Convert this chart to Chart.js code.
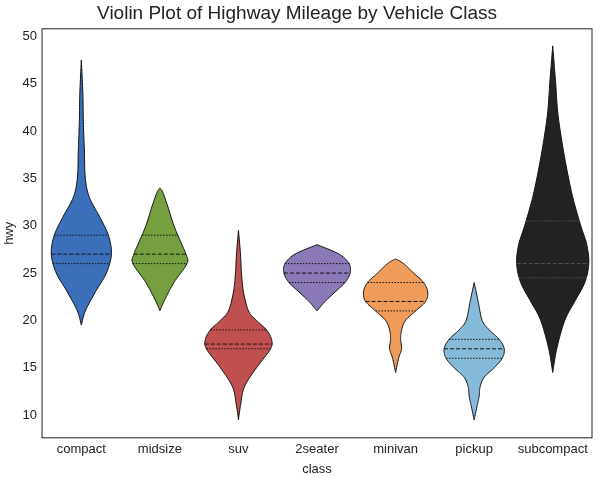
<!DOCTYPE html>
<html>
<head>
<meta charset="utf-8">
<script src="https://cdn.jsdelivr.net/npm/chart.js@4"></script>
<style>
  body { margin: 0; background: #fff; }
  #wrap { width: 600px; height: 477px; }
</style>
</head>
<body>
<div id="wrap"><canvas id="c"></canvas></div>
<script>
// Categories and colours
const classes = ["compact", "midsize", "suv", "2seater", "minivan", "pickup", "subcompact"];
const colors = ["#3b6fba", "#76a03f", "#c0504f", "#8a78b7", "#ef9b5a", "#85bbd8", "#222222"];

// Violin outlines: hwy levels and half-widths (px at category spacing ~78)
const levels = [
  [19.5, 21, 23, 25, 27, 29, 31, 33, 35, 38, 41, 44, 47.5],
  [21, 22, 24, 26, 27, 28, 30, 32, 33.5, 34],
  [9.5, 11, 13, 15, 17, 18, 19, 20, 21, 23, 25, 27, 29.5],
  [21, 22, 23, 24, 25, 26, 27, 28],
  [14.5, 16, 17, 18, 19, 20, 21, 22, 23, 24, 25, 26, 26.5],
  [9.5, 11, 12, 13, 14, 15, 16, 17, 18, 19, 20, 22, 24],
  [14.5, 17, 20, 22, 24, 26, 28, 30, 33, 36, 39, 42, 45, 47, 49]
];
const widths = [
  [0, 4, 14, 25, 30, 27, 18, 8, 4, 3, 2, 1.5, 0],
  [0, 4, 14, 27, 26, 22, 14, 8, 3, 0],
  [0, 2, 6, 18, 32, 33, 28, 18, 10, 5, 3, 2, 0],
  [0, 8, 18, 28, 33, 32, 22, 0],
  [0, 3, 6, 5, 6, 10, 20, 30, 32, 28, 18, 8, 0],
  [0, 3, 5, 6, 10, 20, 28, 30, 25, 15, 8, 4, 0],
  [0, 4, 12, 22, 32, 36, 34, 28, 20, 14, 9, 5, 3, 1.5, 0]
];
// Quartiles [q1, median, q3]
const quartiles = [
  [26, 27, 29], [26, 27, 29], [17, 17.5, 19], [24, 25, 26],
  [21, 22, 24], [16, 17, 18], [24.5, 26, 30.5]
];
const SPACING = 78.4;

// Catmull-Rom smoothing of the outline, sampled finely
function smooth(ys, ws) {
  const out = [];
  for (let k = 0; k < ys.length - 1; k++) {
    const p0 = k ? k - 1 : k, p3 = k + 2 < ys.length ? k + 2 : k + 1;
    for (let s = 0; s < 10; s++) {
      const t = s / 10, t2 = t * t, t3 = t2 * t;
      const cr = (a, b, c, d) => 0.5 * (2 * b + (-a + c) * t + (2 * a - 5 * b + 4 * c - d) * t2 + (-a + 3 * b - 3 * c + d) * t3);
      out.push([cr(ys[p0], ys[k], ys[k + 1], ys[p3]), Math.max(0, cr(ws[p0], ws[k], ws[k + 1], ws[p3]))]);
    }
  }
  out.push([ys[ys.length - 1], 0]);
  return out;
}

function widthAt(pts, v) {
  for (let k = 0; k < pts.length - 1; k++) {
    const a = pts[k], b = pts[k + 1];
    if (v >= a[0] && v <= b[0]) return a[1] + (v - a[0]) / (b[0] - a[0]) * (b[1] - a[1]);
  }
  return 0;
}

const violinPlugin = {
  id: "violins",
  afterDatasetsDraw(chart) {
    const { ctx, scales: { x, y }, chartArea } = chart;
    ctx.save();
    classes.forEach((c, i) => {
      const px = f => x.getPixelForValue(i + f);
      const pts = smooth(levels[i], widths[i]);
      ctx.beginPath();
      pts.forEach((p, k) => {
        const xx = px(p[1] / SPACING), yy = y.getPixelForValue(p[0]);
        k ? ctx.lineTo(xx, yy) : ctx.moveTo(xx, yy);
      });
      for (let k = pts.length - 1; k >= 0; k--) {
        ctx.lineTo(px(-pts[k][1] / SPACING), y.getPixelForValue(pts[k][0]));
      }
      ctx.closePath();
      ctx.fillStyle = colors[i];
      ctx.fill();
      ctx.strokeStyle = "#111";
      ctx.lineWidth = 1;
      ctx.stroke();
      quartiles[i].forEach((q, k) => {
        const w = widthAt(pts, q) / SPACING;
        ctx.beginPath();
        ctx.setLineDash(k === 1 ? [4, 2] : [1.5, 1.5]);
        ctx.strokeStyle = i === 6 ? "#555" : "#111";
        ctx.moveTo(px(-w), y.getPixelForValue(q));
        ctx.lineTo(px(w), y.getPixelForValue(q));
        ctx.stroke();
      });
      ctx.setLineDash([]);
    });
    ctx.strokeStyle = "#222";
    ctx.lineWidth = 1;
    ctx.strokeRect(chartArea.left, chartArea.top, chartArea.right - chartArea.left, chartArea.bottom - chartArea.top);
    ctx.restore();
  }
};

new Chart(document.getElementById("c"), {
  type: "bar",
  data: { labels: classes, datasets: [{ data: [] }] },
  options: {
    responsive: true,
    maintainAspectRatio: false,
    animation: false,
    layout: { padding: { top: 0, right: 8, left: 2, bottom: 0 } },
    plugins: {
      legend: { display: false },
      tooltip: { enabled: false },
      title: {
        display: true,
        text: "Violin Plot of Highway Mileage by Vehicle Class",
        color: "#222",
        font: { family: "Liberation Sans", size: 19, weight: "normal" },
        padding: { top: 2, bottom: 4 }
      }
    },
    scales: {
      x: {
        grid: { display: false, drawTicks: false },
        border: { display: false },
        ticks: { color: "#222", font: { family: "Liberation Sans", size: 13 }, padding: 4 },
        title: { display: true, text: "class", color: "#222", font: { family: "Liberation Sans", size: 13 }, padding: 0 }
      },
      y: {
        min: 7.6, max: 50.8,
        grid: { display: false, drawTicks: false },
        border: { display: false },
        afterBuildTicks: axis => { axis.ticks = [10, 15, 20, 25, 30, 35, 40, 45, 50].map(v => ({ value: v })); },
        ticks: { color: "#222", font: { family: "Liberation Sans", size: 13 }, padding: 5 },
        title: { display: true, text: "hwy", color: "#222", font: { family: "Liberation Sans", size: 13 }, padding: 0 }
      }
    }
  },
  plugins: [violinPlugin]
});
</script>
</body>
</html>
